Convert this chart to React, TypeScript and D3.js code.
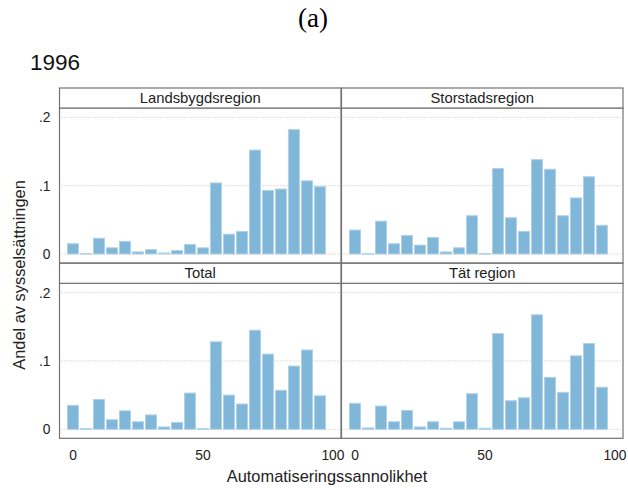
import React from "react";
import * as d3 from "d3";

const binCenters = [0, 5, 10, 15, 20, 25, 30, 35, 40, 45, 50, 55, 60, 65, 70, 75, 80, 85, 90, 95];

const landsbygd = [0.015, 0.0006, 0.023, 0.009, 0.0185, 0.003, 0.0063, 0.0015, 0.005, 0.014, 0.009, 0.104, 0.029, 0.033, 0.152, 0.093, 0.095, 0.182, 0.107, 0.0985];
const storstad = [0.035, 0.0006, 0.048, 0.015, 0.027, 0.013, 0.024, 0.003, 0.009, 0.056, 0.0006, 0.125, 0.053, 0.033, 0.138, 0.124, 0.056, 0.082, 0.113, 0.042];
const total = [0.035, 0.001, 0.0436, 0.014, 0.027, 0.011, 0.021, 0.0034, 0.010, 0.053, 0.001, 0.128, 0.050, 0.037, 0.145, 0.110, 0.057, 0.0925, 0.116, 0.049];
const tat = [0.038, 0.002, 0.034, 0.011, 0.0276, 0.0034, 0.011, 0.0015, 0.011, 0.052, 0.0015, 0.140, 0.0417, 0.046, 0.1675, 0.076, 0.054, 0.1075, 0.1254, 0.0615];

const panelTitles = ["Landsbygdsregion", "Storstadsregion", "Total", "Tät region"];
const panelSeries = [landsbygd, storstad, total, tat];

const yTicks = [0, 0.1, 0.2];
const yTickLabels = ["0", ".1", ".2"];
const xTicks = [0, 50, 100];
const xTickLabels = ["0", "50", "100"];

const FONT = "'Liberation Sans', Arial, sans-serif";
const colX = [59.5, 341.5];
const panelW = 281.5;
const rowTop = [88, 263.3];
const headerH = 20;
const plotH = 155;
const BORDER = "#737373";

export default function App() {
  const panels = panelTitles.map((title, i) => {
    const col = i % 2;
    const row = Math.floor(i / 2);
    const x0 = colX[col];
    const top = rowTop[row];
    const pTop = top + headerH;
    const pBottom = pTop + plotH;
    const xs = d3.scaleLinear().domain([-5.2, 103.1]).range([x0, x0 + panelW]);
    const ys = d3.scaleLinear().domain([-0.0132, 0.2136]).range([pBottom, pTop]);
    const step = xs(5) - xs(0);
    return (
      <g key={title}>
        <rect x={x0} y={pTop} width={panelW} height={plotH} fill="#fff" />
        {yTicks.map((t) => (
          <line
            key={t}
            x1={x0 + 2}
            x2={x0 + panelW - 2}
            y1={ys(t)}
            y2={ys(t)}
            stroke="#bdbdbd"
            strokeWidth={1}
            strokeDasharray="1,2"
          />
        ))}
        {panelSeries[i].map((v, j) => {
          const c = binCenters[j];
          const yTop = ys(v);
          const y0 = ys(0);
          return (
            <rect
              key={j}
              x={xs(c) - step / 2 + 1}
              y={yTop}
              width={step - 2}
              height={Math.max(0.5, y0 - yTop)}
              fill="#80b6d8"
              stroke="#b0d2e8"
              strokeWidth={1}
            />
          );
        })}
        <rect x={x0} y={pTop} width={panelW} height={plotH} fill="none" stroke={BORDER} strokeWidth={1.2} />
        <rect x={x0} y={top} width={panelW} height={headerH} fill="#fff" stroke={BORDER} strokeWidth={1.2} />
        <text
          x={x0 + panelW / 2}
          y={top + 15}
          textAnchor="middle"
          fontFamily={FONT}
          fontSize={14.8}
          fill="#222"
        >
          {title}
        </text>
        {col === 0 &&
          yTicks.map((t, k) => (
            <text
              key={t}
              x={50.5}
              y={ys(t) + 5}
              textAnchor="end"
              fontFamily={FONT}
              fontSize={13.8}
              fill="#222"
            >
              {yTickLabels[k]}
            </text>
          ))}
        {row === 1 &&
          xTicks.map((t, k) => (
            <text
              key={t}
              x={xs(t)}
              y={459.5}
              textAnchor="middle"
              fontFamily={FONT}
              fontSize={13.8}
              fill="#222"
            >
              {xTickLabels[k]}
            </text>
          ))}
      </g>
    );
  });

  return (
    <div style={{ position: "absolute", left: 0, top: 0 }}>
      <svg width={628} height={488} style={{ display: "block", background: "#fff" }}>
        <rect x={0} y={0} width={628} height={488} fill="#fff" />
        <text x={313} y={27} textAnchor="middle" fontFamily="'Liberation Serif', 'Times New Roman', serif" fontSize={27} fill="#000">
          (a)
        </text>
        <text x={30} y={70} fontFamily={FONT} fontSize={22.5} fill="#111">
          1996
        </text>
        {panels}
        <text
          transform="translate(25,275) rotate(-90)"
          textAnchor="middle"
          fontFamily={FONT}
          fontSize={16.4}
          fill="#222"
        >
          Andel av sysselsättningen
        </text>
        <text x={327} y={482} textAnchor="middle" fontFamily={FONT} fontSize={16.4} fill="#222">
          Automatiseringssannolikhet
        </text>
      </svg>
    </div>
  );
}
